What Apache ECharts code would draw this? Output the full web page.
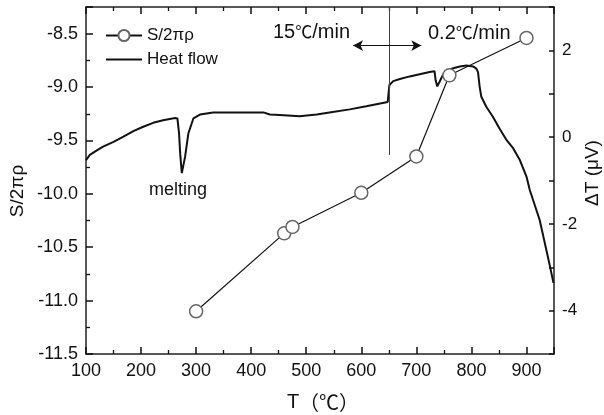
<!DOCTYPE html>
<html>
<head>
<meta charset="utf-8">
<script src="https://cdn.jsdelivr.net/npm/echarts@6/dist/echarts.min.js"></script>
<style>
    html, body { margin: 0; padding: 0; background: #fff; }
    #chart { width: 604px; height: 415px; }
</style>
</head>
<body>
<div id="chart"></div>
<script>
// S/2πρ 测量点
var tempS = [300, 460, 475, 600, 700, 760, 900]
var valueS = [-11.1, -10.37, -10.31, -9.99, -9.65, -8.89, -8.54]

// 热流曲线 (ΔT, μV)
var tempHeat = [100, 107, 119, 131, 150, 168, 186, 204, 222, 240, 252, 262, 266, 269, 271, 274, 280, 286, 295, 307, 331,
    422, 434, 452, 488, 519, 548, 579, 609, 648, 651, 658, 670, 688, 706, 724, 733, 735, 738, 742, 748, 757, 767, 779,
    791, 803, 809, 812, 815, 818, 827, 839, 851, 864, 876, 888, 900, 906, 912, 924, 942, 949]
var valueHeat = [-0.53, -0.41, -0.31, -0.22, -0.11, 0.01, 0.14, 0.24, 0.33, 0.39, 0.42, 0.44, 0.43, 0.09, -0.37, -0.83, -0.45, 0.09, 0.43, 0.52, 0.57,
    0.57, 0.52, 0.51, 0.48, 0.52, 0.58, 0.64, 0.71, 0.81, 1.20, 1.29, 1.34, 1.40, 1.45, 1.50, 1.52, 1.31, 1.17, 1.27, 1.43, 1.54, 1.59, 1.63,
    1.65, 1.63, 1.58, 1.50, 1.16, 0.93, 0.70, 0.47, 0.20, -0.07, -0.26, -0.53, -0.91, -1.22, -1.45, -1.91, -2.94, -3.36]

// 刻度
var xTicks = [100, 200, 300, 400, 500, 600, 700, 800, 900]
var leftTicks = [-11.5, -11.0, -10.5, -10.0, -9.5, -9.0, -8.5]
var rightTicks = [-4, -2, 0, 2]

var font = "'Liberation Sans', Arial, sans-serif"
var cjk = "'Noto Sans CJK SC', sans-serif"
var axisColor = '#111'

const chart = echarts.init(document.getElementById('chart'))

let sData = tempS.map((t, i) => [t, valueS[i]])
let heatData = tempHeat.map((t, i) => [t, valueHeat[i]])

// 每一边只放一根轴, 次刻度用 minorTick
function xAx(pos) {
    return {
        type: 'value', position: pos, min: 100, max: 950, interval: 100,
        axisLine: { show: true, onZero: false, lineStyle: { color: '#222', width: 1.5 } },
        axisTick: { show: true, inside: true, length: 7, lineStyle: { color: axisColor, width: 1.5 } },
        minorTick: { show: true, splitNumber: 2, length: 4, lineStyle: { color: axisColor, width: 1.3 } },
        axisLabel: pos === 'bottom'
            ? {
                show: true, color: '#111', fontSize: 18, fontFamily: font, margin: 8, showMaxLabel: false,
                formatter: v => (xTicks.indexOf(v) >= 0 ? String(v) : '')
            }
            : { show: false },
        splitLine: { show: false },
        minorSplitLine: { show: false }
    }
}

const option = {
    animation: false,
    grid: { left: 86, right: 50, top: 7, bottom: 61, outerBoundsMode: 'none' },
    legend: {
        left: 100, top: 22, orient: 'vertical',
        itemWidth: 36, itemHeight: 14, itemGap: 7,
        textStyle: { fontSize: 17, fontFamily: font, color: '#111' },
        data: [
            { name: 'S/2πρ' },
            { name: 'Heat flow', itemStyle: { opacity: 0 } }
        ]
    },
    xAxis: [
        Object.assign(xAx('bottom'), {
            name: 'T{c|（℃）}', nameLocation: 'middle', nameGap: 38,
            nameTextStyle: { fontSize: 20, fontFamily: font, color: '#111', padding: [0, 0, 0, 6], rich: { c: { fontSize: 20, fontFamily: cjk, color: '#111' } } }
        }),
        xAx('top')
    ],
    yAxis: [
        {
            type: 'value', position: 'left', min: -11.5, max: -8.25, interval: 0.5,
            axisLine: { show: true, onZero: false, lineStyle: { color: '#222', width: 1.5 } },
            axisTick: { show: true, inside: true, length: 7, lineStyle: { color: axisColor, width: 1.5 } },
            minorTick: { show: true, splitNumber: 2, length: 4, lineStyle: { color: axisColor, width: 1.3 } },
            axisLabel: {
                show: true, color: '#111', fontSize: 18, fontFamily: font, margin: 8, showMaxLabel: false,
                formatter: v => (leftTicks.indexOf(v) >= 0 ? v.toFixed(1) : '')
            },
            splitLine: { show: false },
            minorSplitLine: { show: false }
        },
        {
            type: 'value', position: 'right', min: -5, max: 3, interval: 1,
            axisLine: { show: true, onZero: false, lineStyle: { color: '#222', width: 1.5 } },
            axisTick: { show: true, inside: true, length: 5, lineStyle: { color: axisColor, width: 1.5 } },
            axisLabel: {
                show: true, color: '#111', fontSize: 17, fontFamily: font, margin: 8,
                formatter: v => (rightTicks.indexOf(v) >= 0 ? String(v) : '')
            },
            splitLine: { show: false }
        }
    ],
    graphic: [
        // 轴标题
        {
            type: 'text', x: 18, y: 191, rotation: Math.PI / 2,
            style: { text: 'S/2πρ', fontSize: 19, fontFamily: font, fill: '#111', align: 'center', verticalAlign: 'middle' }
        },
        {
            type: 'text', x: 593, y: 173, rotation: Math.PI / 2,
            style: { text: 'ΔT (μV)', fontSize: 19, fontFamily: font, fill: '#111', align: 'center', verticalAlign: 'middle' }
        },
        // 注释
        {
            type: 'text', x: 273, y: 32,
            style: { text: '15{c|℃}/min', fontSize: 20, fontFamily: font, fill: '#111', verticalAlign: 'middle', rich: { c: { fontSize: 17, fontFamily: cjk, fill: '#111' } } }
        },
        {
            type: 'text', x: 428, y: 33,
            style: { text: '0.2{c|℃}/min', fontSize: 20, fontFamily: font, fill: '#111', verticalAlign: 'middle', rich: { c: { fontSize: 17, fontFamily: cjk, fill: '#111' } } }
        },
        { type: 'text', x: 149, y: 190, style: { text: 'melting', fontSize: 18, fontFamily: font, fill: '#111', verticalAlign: 'middle' } }
    ],
    series: [
        {
            name: 'Heat flow', type: 'line', xAxisIndex: 0, yAxisIndex: 1,
            data: heatData, showSymbol: false, symbol: 'none',
            lineStyle: { color: '#111', width: 2 }, itemStyle: { color: '#111' },
            markLine: {
                silent: true, animation: false,
                label: { show: false },
                data: [
                    [{ coord: [650, 3], symbol: 'none' }, { coord: [650, -0.41], symbol: 'none', lineStyle: { color: '#444', width: 1, type: 'solid' } }],
                    [{ coord: [585, 2.11], symbol: 'arrow' }, { coord: [709, 2.11], symbol: 'arrow', lineStyle: { color: '#111', width: 1.2, type: 'solid' } }]
                ],
                symbolSize: [8, 10],
                lineStyle: { color: '#111', width: 1, type: 'solid' }
            }
        },
        {
            name: 'S/2πρ', type: 'line', xAxisIndex: 0, yAxisIndex: 0,
            data: sData, symbol: 'circle', symbolSize: 13, showSymbol: true,
            lineStyle: { color: '#111', width: 1.2 },
            itemStyle: { color: '#fff', borderColor: '#666', borderWidth: 1.5 }
        }
    ]
}
chart.setOption(option)
</script>
</body>
</html>
